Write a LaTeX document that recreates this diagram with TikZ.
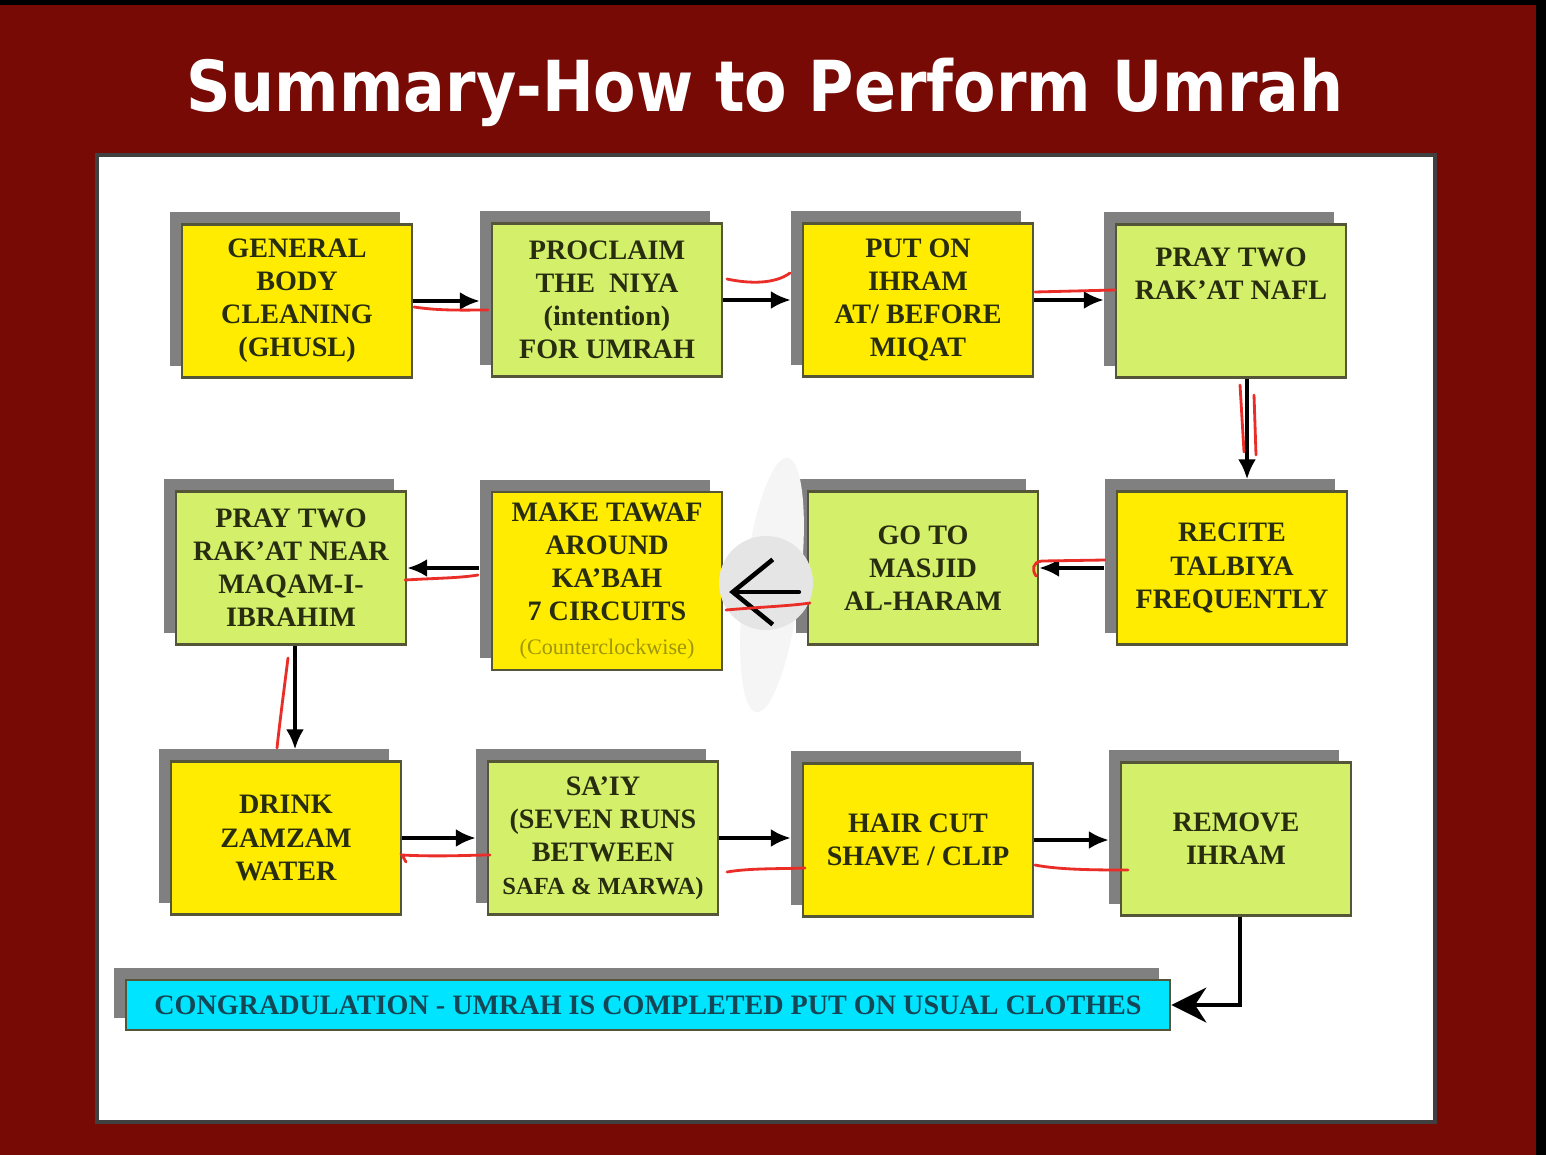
\documentclass[tikz,border=0pt]{standalone}
\usepackage{fontspec}
\setmainfont{Liberation Serif}
\newfontfamily\titlefont{DejaVu Sans}
\usetikzlibrary{arrows.meta,shadows,calc}

\definecolor{maroon}{RGB}{120,10,6}
\definecolor{boxyellow}{RGB}{255,236,0}
\definecolor{boxgreen}{RGB}{212,240,106}
\definecolor{boxcyan}{RGB}{0,228,255}
\definecolor{boxedge}{RGB}{85,85,55}
\definecolor{boxtext}{RGB}{40,45,15}
\definecolor{donetext}{RGB}{20,70,85}
\definecolor{penred}{RGB}{235,45,40}

\begin{document}
\begin{tikzpicture}[
                x=0.01cm, y=-0.01cm,
                stepbox/.style={draw=boxedge, line width=0.6pt, text=boxtext, align=center,
                        minimum width=2.3cm, minimum height=1.53cm, inner sep=1pt,
                        font=\fontsize{8}{9.4}\selectfont\bfseries,
                        drop shadow={shadow xshift=-1.2mm, shadow yshift=1.2mm, fill=black!50, opacity=1}},
                ybox/.style={stepbox, fill=boxyellow},
                gbox/.style={stepbox, fill=boxgreen},
                fwd/.style={line width=1.2pt, shorten >=1.1mm, -{Latex[length=2mm,width=1.8mm]}},
                back/.style={line width=1.2pt, shorten <=1.2mm, -{Latex[length=2mm,width=1.8mm]}},
                pen/.style={penred, line width=0.8pt, line cap=round}
            ]

            \useasboundingbox (0,0) rectangle (1546,1155);
            \fill[maroon] (0,0) rectangle (1546,1155);
            \fill[black] (0,0) rectangle (1546,5);
            \fill[black] (1536,0) rectangle (1546,1155);
            \filldraw[fill=white, draw=black!75, line width=1.2pt] (97,155) rectangle (1435,1122);

            \node[text=white, font=\titlefont\bfseries\fontsize{20}{24}\selectfont] (title) at (765,92) {\scalebox{0.88}[1]{Summary-How to Perform Umrah}};

            % first row
            \node[ybox] (ghusl) at (297,301) {GENERAL\\BODY\\CLEANING\\(GHUSL)};
            \node[gbox] (niya) at (607,300) {PROCLAIM\\THE~~NIYA\\(intention)\\FOR UMRAH};
            \node[ybox] (ihram) at (918,300) {PUT ON\\IHRAM\\AT/ BEFORE\\MIQAT};
            \node[gbox] (nafl) at (1231,301) {PRAY TWO\\RAK'AT NAFL\\[6pt]};

            % second row
            \node[ybox] (talbiya) at (1232,568) {RECITE\\TALBIYA\\FREQUENTLY};
            \node[gbox] (masjid) at (923,568) {GO TO\\MASJID\\AL-HARAM};
            \node[ybox, minimum height=1.78cm] (tawaf) at (607,581) {MAKE TAWAF\\AROUND\\KA'BAH\\7 CIRCUITS\\{\fontsize{6.3}{9}\selectfont\mdseries\color{boxtext!45!boxyellow}(Counterclockwise)}};
            \node[gbox] (maqam) at (291,568) {PRAY TWO\\RAK'AT NEAR\\MAQAM-I-\\IBRAHIM};

            % third row
            \node[ybox] (zamzam) at (286,838) {DRINK\\ZAMZAM\\WATER};
            \node[gbox] (saiy) at (603,838) {SA'IY\\(SEVEN RUNS\\BETWEEN\\{\fontsize{7}{9.4}\selectfont SAFA \& MARWA)}};
            \node[ybox] (haircut) at (918,840) {HAIR CUT\\SHAVE / CLIP};
            \node[gbox] (remove) at (1236,839) {REMOVE\\IHRAM};

            \node[stepbox, fill=boxcyan, text=donetext, minimum width=10.44cm, minimum height=0.5cm,
                drop shadow={shadow xshift=-1.1mm, shadow yshift=1.2mm, fill=black!50, opacity=1}] (done) at (648,1005)
                {CONGRADULATION - UMRAH IS COMPLETED PUT ON USUAL CLOTHES};

            % connectors
            \draw[fwd] (ghusl.east) -- (ghusl.east -| niya.west);
            \draw[fwd] (niya.east) -- (niya.east -| ihram.west);
            \draw[fwd] (ihram.east) -- (ihram.east -| nafl.west);
            \draw[fwd] ([xshift=1.6mm]nafl.south) -- ([xshift=1.6mm]nafl.south |- talbiya.north);
            \draw[back] (talbiya.west) -- (talbiya.west -| masjid.east);
            \draw[back] (tawaf.west |- maqam.east) -- (maqam.east);
            \draw[fwd] ([xshift=0.4mm]maqam.south) -- ([xshift=0.4mm]maqam.south |- zamzam.north);
            \draw[fwd] (zamzam.east) -- (zamzam.east -| saiy.west);
            \draw[fwd] (saiy.east) -- (saiy.east -| haircut.west);
            \draw[fwd] (haircut.east) -- (haircut.east -| remove.west);
            \draw[line width=0.9pt, -{Stealth[length=3.5mm,width=3.5mm]}] ([xshift=0.4mm]remove.south) |- (done.east);

            % smudge and hand drawn arrow
            \fill[black!4] (772,585) ellipse [x radius=28, y radius=128, rotate=-7];
            \fill[black!10] (766,583) circle (47);
            \draw[line width=1.3pt, line cap=round, -{Straight Barb[length=4mm,width=6.5mm]}] ($(masjid.west)+(-8,24)$) -- ($(tawaf.east)+(6,11)$);

            % red pen marks
            \draw[pen] (414,307) .. controls (440,311) and (465,310) .. (488,310);
            \draw[pen] (727,279) .. controls (750,284) and (775,284) .. (790,273);
            \draw[pen] (1035,292) -- (1115,290);
            \draw[pen] (1240,385) -- (1244,452);
            \draw[pen] (1254,395) -- (1256,455);
            \draw[pen] (1105,560) -- (1042,561) .. controls (1032,562) and (1032,570) .. (1036,576);
            \draw[pen] (726,610) .. controls (760,607) and (790,606) .. (810,603);
            \draw[pen] (405,580) .. controls (440,578) and (460,578) .. (478,575);
            \draw[pen] (288,658) .. controls (284,690) and (280,720) .. (277,748);
            \draw[pen] (406,862) -- (402,855) .. controls (440,857) and (470,855) .. (490,855);
            \draw[pen] (727,872) .. controls (750,868) and (780,869) .. (805,868);
            \draw[pen] (1035,865) .. controls (1060,870) and (1100,870) .. (1128,870);

        \end{tikzpicture}
\end{document}
